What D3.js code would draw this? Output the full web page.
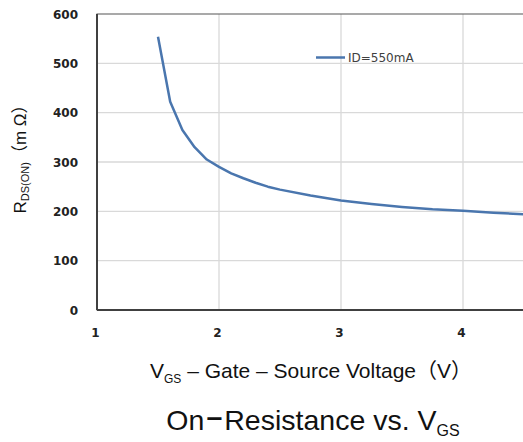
<!DOCTYPE html>
<html><head><meta charset="utf-8">
<script src="https://cdn.jsdelivr.net/npm/d3@7"></script>
<style>html,body{margin:0;padding:0;background:#fff;overflow:hidden}</style>
</head><body>
<svg id="c" width="523" height="442"></svg>
<script>
const vgs = [1.5,1.6,1.7,1.8,1.9,2.0,2.1,2.2,2.3,2.4,2.5,2.75,3.0,3.25,3.5,3.75,4.0,4.25,4.5,5.0];
const rdson = [554,422,365,330,305,290,277,267,258,250,244,232,222,215,209,204,201,197,194,188];
const xTicks = [1,2,3,4,5];
const yTicks = [0,100,200,300,400,500,600];
const seriesName = "ID=550mA";

const svg = d3.select("#c");
const x = d3.scaleLinear().domain([1,5]).range([97,585]);
const y = d3.scaleLinear().domain([0,600]).range([310,14]);

// gridlines
svg.append("g").selectAll("line").data(yTicks.slice(1,-1)).join("line")
  .attr("x1",x(1)).attr("x2",x(5)).attr("y1",d=>y(d)).attr("y2",d=>y(d))
  .attr("stroke","#d9d9d9").attr("stroke-width",1.3);
svg.append("g").selectAll("line").data(xTicks.slice(1)).join("line")
  .attr("y1",y(0)).attr("y2",y(600)).attr("x1",d=>x(d)).attr("x2",d=>x(d))
  .attr("stroke","#d9d9d9").attr("stroke-width",1.3);

// frame
svg.append("rect").attr("x",x(1)).attr("y",y(600)).attr("width",x(5)-x(1)).attr("height",y(0)-y(600))
  .attr("fill","none").attr("stroke","#555").attr("stroke-width",1);
svg.append("line").attr("x1",x(1)).attr("x2",x(5)).attr("y1",y(0)).attr("y2",y(0)).attr("stroke","#404040").attr("stroke-width",2);
svg.append("line").attr("x1",x(1)).attr("x2",x(1)).attr("y1",y(0)).attr("y2",y(600)).attr("stroke","#404040").attr("stroke-width",2);

// axes labels via d3 axes
const yAxis = svg.append("g").attr("transform",`translate(${x(1)-19},0)`)
  .call(d3.axisLeft(y).tickValues(yTicks).tickSize(0).tickPadding(0));
yAxis.select(".domain").remove();
yAxis.selectAll("text").attr("font-family","DejaVu Sans").attr("font-weight","bold").attr("font-size",12).attr("fill","#222").attr("dy","0.35em");

const xAxis = svg.append("g").attr("transform",`translate(-2,${y(0)+18})`)
  .call(d3.axisBottom(x).tickValues(xTicks.slice(0,4)).tickSize(0).tickPadding(0).tickFormat(d3.format("d")));
xAxis.select(".domain").remove();
xAxis.selectAll("text").attr("font-family","DejaVu Sans").attr("font-weight","bold").attr("font-size",12).attr("fill","#222");

// curve
const pts = vgs.map((v,i)=>[v,rdson[i]]);
svg.append("path").datum(pts)
  .attr("d",d3.line().x(d=>x(d[0])).y(d=>y(d[1])))
  .attr("fill","none").attr("stroke","#4a76ae").attr("stroke-width",2.5).attr("stroke-linejoin","round");

// legend
svg.append("line").attr("x1",316).attr("x2",345).attr("y1",57.5).attr("y2",57.5).attr("stroke","#4a76ae").attr("stroke-width",2.5);
svg.append("text").attr("x",348).attr("y",62).attr("font-family","DejaVu Sans").attr("font-size",12).attr("fill","#404040").text(seriesName);

const ff = "'Liberation Sans', Arial, 'Noto Sans CJK JP', sans-serif";
// y title
const yt = svg.append("text").attr("transform","translate(26,155) rotate(-90)").attr("text-anchor","middle")
  .attr("font-family",ff).attr("font-size",17).attr("fill","#111");
yt.append("tspan").text("R");
yt.append("tspan").attr("font-size",11).attr("dy",3).text("DS(ON)");
yt.append("tspan").attr("dy",-3).text("（m Ω）");

// x title
const xt = svg.append("text").attr("x",311).attr("y",378).attr("text-anchor","middle")
  .attr("font-family",ff).attr("font-size",21).attr("fill","#111");
xt.append("tspan").text("V");
xt.append("tspan").attr("font-size",12).attr("dy",5).text("GS");
xt.append("tspan").attr("dy",-5).text(" – Gate – Source Voltage（V）");

// chart title
const tt = svg.append("text").attr("x",313).attr("y",430).attr("text-anchor","middle")
  .attr("font-family",ff).attr("font-size",28.5).attr("fill","#111");
tt.append("tspan").text("On");
tt.append("tspan").attr("dx",2).attr("dy",-4).attr("font-weight","bold").text("–");
tt.append("tspan").attr("dx",2).attr("dy",4).text("Resistance vs. V");
tt.append("tspan").attr("font-size",16).attr("dy",6).text("GS");
</script>
</body></html>
